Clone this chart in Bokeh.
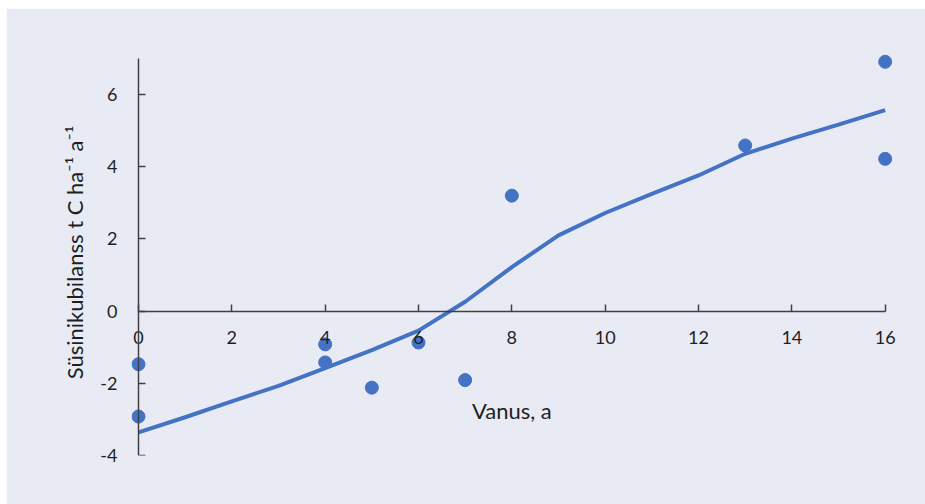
from bokeh.plotting import figure
from bokeh.models import Range1d, FixedTicker, Label, ColumnDataSource, LinearAxis
from bokeh.embed import file_html
from bokeh.resources import INLINE

# Observed points
obs_age = [0, 0, 4, 4, 5, 6, 7, 8, 13, 16, 16]
obs_balance = [-1.47, -2.92, -0.92, -1.42, -2.12, -0.87, -1.91, 3.2, 4.59, 6.91, 4.22]

# Model curve
fit_age = [0, 1, 2, 3, 4, 5, 6, 7, 8, 9, 10, 11, 12, 13, 14, 15, 16]
fit_balance = [-3.36, -2.94, -2.50, -2.07, -1.58, -1.08, -0.54, 0.26, 1.22, 2.10,
               2.72, 3.25, 3.76, 4.36, 4.78, 5.17, 5.57]

x_ticks = [0, 2, 4, 6, 8, 10, 12, 14, 16]
y_ticks = [-4, -2, 0, 2, 4, 6]
y_tick_labels = {-4: "-4", -2: "-2", 0: "0", 2: "2", 4: "4", 6: "6"}

x_title = "Vanus, a"
y_title = "Süsinikubilanss t C ha⁻¹ a⁻¹"

BG = "#e8ebf3"
BLUE = "#4472c4"
AXIS = "#404040"
TEXT = "#1f1f1f"
FONT = "Lato"

p = figure(width=919, height=496, output_backend="svg", toolbar_location=None,
           x_range=Range1d(-0.15, 16.35), y_range=Range1d(-4, 7.25),
           min_border_left=125, min_border_right=24, min_border_top=41, min_border_bottom=49)
p.margin = (8, 0, 0, 6)
p.background_fill_color = BG
p.border_fill_color = BG
p.outline_line_color = BG
p.outline_line_width = 2
p.xgrid.grid_line_color = None
p.ygrid.grid_line_color = None

fit_src = ColumnDataSource(dict(x=fit_age, y=fit_balance))
obs_src = ColumnDataSource(dict(x=obs_age, y=obs_balance))
p.line("x", "y", source=fit_src, line_color=BLUE, line_width=4)
p.scatter("x", "y", source=obs_src, size=13, fill_color=BLUE, line_color=BLUE)

xa = p.xaxis[0]
xa.fixed_location = 0
xa.bounds = (0, 16)
xa.ticker = FixedTicker(ticks=x_ticks)
xa.minor_tick_line_color = None
xa.major_tick_in = 7
xa.major_tick_out = 0
xa.axis_line_color = AXIS
xa.axis_line_width = 1.5
xa.major_tick_line_color = AXIS
xa.major_tick_line_width = 1.5
xa.major_label_standoff = 20
xa.major_label_text_font = FONT
xa.major_label_text_font_size = "18px"
xa.major_label_text_color = TEXT

# y axis line and ticks at x = 0
ya = p.yaxis[0]
ya.fixed_location = 0
ya.bounds = (-4, 7)
ya.ticker = FixedTicker(ticks=y_ticks)
ya.minor_tick_line_color = None
ya.major_tick_in = 7
ya.major_tick_out = 0
ya.axis_line_color = AXIS
ya.axis_line_width = 1.5
ya.major_tick_line_color = AXIS
ya.major_tick_line_width = 1.5
ya.major_label_text_color = None

# y tick labels and title
yl = LinearAxis(ticker=FixedTicker(ticks=y_ticks), major_label_overrides=y_tick_labels,
                axis_line_color=None, major_tick_line_color=None, minor_tick_line_color=None,
                major_tick_in=0, major_tick_out=0, major_label_standoff=14,
                major_label_text_font=FONT, major_label_text_font_size="18px",
                major_label_text_color=TEXT,
                axis_label=y_title, axis_label_text_font=FONT, axis_label_text_font_size="22px",
                axis_label_text_font_style="normal", axis_label_text_color=TEXT,
                axis_label_standoff=9)
p.add_layout(yl, "left")

p.add_layout(Label(x=8, y=-2.75, text=x_title, text_align="center", text_baseline="middle",
                   text_font=FONT, text_font_size="22px", text_color=TEXT))

open("out.html", "w").write(file_html(p, INLINE))
